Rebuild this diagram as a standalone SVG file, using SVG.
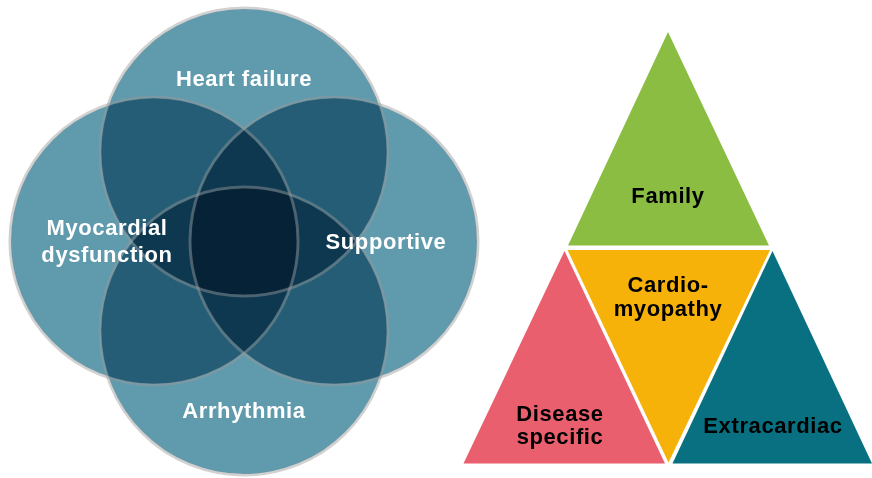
<svg xmlns="http://www.w3.org/2000/svg" width="872" height="478" viewBox="0 0 872 478">
<style>
.c{fill:#5f9aad;mix-blend-mode:multiply}
.ring{fill:none;stroke:#9a9a9a;stroke-opacity:0.45;stroke-width:3}
.lw{font-family:"Liberation Sans",Arial,sans-serif;font-weight:bold;font-size:22px;letter-spacing:0.6px;fill:#fff;text-anchor:middle}
.lb{font-family:"Liberation Sans",Arial,sans-serif;font-weight:bold;font-size:22px;letter-spacing:0.6px;fill:#000;text-anchor:middle}
</style>
<rect width="872" height="478" fill="#fff"/>
<g id="venn" style="isolation:isolate">
<g id="heart-failure"><circle class="c" cx="244" cy="152" r="143"/></g>
<g id="myocardial-dysfunction"><circle class="c" cx="154" cy="241" r="143"/></g>
<g id="supportive"><circle class="c" cx="334" cy="241" r="143"/></g>
<g id="arrhythmia"><circle class="c" cx="244" cy="331" r="143"/></g>
</g>
<g id="rings">
<circle class="ring" cx="244" cy="152" r="144"/>
<circle class="ring" cx="154" cy="241" r="144"/>
<circle class="ring" cx="334" cy="241" r="144"/>
<circle class="ring" cx="244" cy="331" r="144"/>
</g>
<g id="venn-labels">
<text class="lw" x="244" y="86">Heart failure</text>
<text class="lw" x="107" y="235">Myocardial</text>
<text class="lw" x="107" y="262">dysfunction</text>
<text class="lw" x="386" y="249">Supportive</text>
<text class="lw" x="244" y="418">Arrhythmia</text>
</g>
<g id="family">
<polygon points="668,32 769,245.5 568,245.5" fill="#8abd42"/>
<text class="lb" x="668" y="203">Family</text>
</g>
<g id="cardiomyopathy">
<polygon points="567.5,250 770,250 668.5,462.5" fill="#f7b20a"/>
<text class="lb" x="668" y="292">Cardio-</text>
<text class="lb" x="668" y="316">myopathy</text>
</g>
<g id="disease-specific">
<polygon points="564.5,251 665,463.5 463.5,463.5" fill="#ea5f6e"/>
<text class="lb" x="560" y="421">Disease</text>
<text class="lb" x="560" y="444">specific</text>
</g>
<g id="extracardiac">
<polygon points="772.5,251 872,463.5 672.5,463.5" fill="#087080"/>
<text class="lb" x="773" y="433">Extracardiac</text>
</g>
<g id="connectors"/>
</svg>
